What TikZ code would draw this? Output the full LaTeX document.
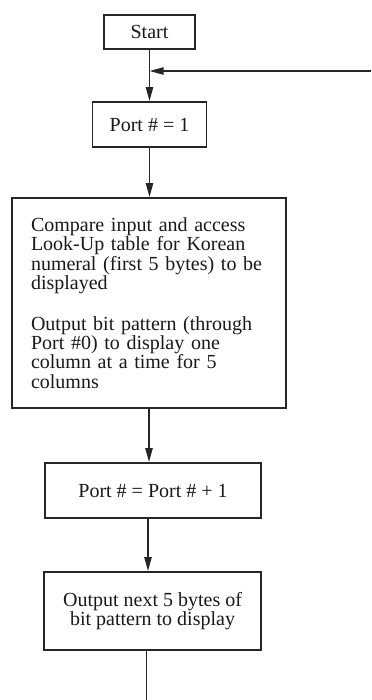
\documentclass[tikz,border=0pt]{standalone}
\usepackage{fontspec}
\setmainfont{Liberation Serif}
\usetikzlibrary{arrows.meta}

\begin{document}
\begin{tikzpicture}[
		x=0.5pt, y=-0.5pt,
		box/.style={draw=black!85, line width=0.9pt, fill=white, text=black!90, inner sep=0pt, font=\fontsize{10}{9.6}\selectfont},
		flow/.style={draw=black!85, line width=0.9pt, -{Triangle[length=7pt, width=3.6pt]}},
		plain/.style={draw=black!85, line width=0.9pt}
	]
	\useasboundingbox (0,0) rectangle (371,700);
	% Boxes
	\node[box, minimum width=45.5pt, minimum height=17pt] (start) at (149.5,32) {Start};
	\node[box, minimum width=57pt, minimum height=22.5pt] (port1) at (149.5,124.5) {Port \# = 1};
	\node[box, text width=118pt, inner xsep=9.5pt, minimum height=105pt, align=left] (compare) at (149,303) {Compare input and access\\
			Look-Up table for Korean\\
			numeral (first 5 bytes) to be\\
			displayed\\[11pt]
			Output bit pattern (through\\
			Port \#0) to display one\\
			column at a time for 5\\
			columns};
	\node[box, minimum width=108pt, minimum height=27.5pt] (inc) at (153,490.5) {Port \# = Port \# + 1};
	\node[box, minimum width=108.5pt, minimum height=39pt, align=center] (out) at (152.5,611) {Output next 5 bytes of\\
			bit pattern to display};
	% Loop return and open end
	\coordinate (retin) at (371,71);
	\coordinate (bottom) at (0,700);
	% Connectors
	\draw[flow] (start.south) -- (start.south |- port1.north);
	\draw[flow] (retin) -- (start.south |- retin);
	\draw[flow] (port1.south) -- (port1.south |- compare.north);
	\draw[flow] (compare.south) -- (compare.south |- inc.north);
	\draw[flow] ([xshift=-2.5pt]inc.south) -- ([xshift=-2.5pt]inc.south |- out.north);
	\draw[plain] ([xshift=-3pt]out.south) -- ([xshift=-3pt]out.south |- bottom);
\end{tikzpicture}
\end{document}
